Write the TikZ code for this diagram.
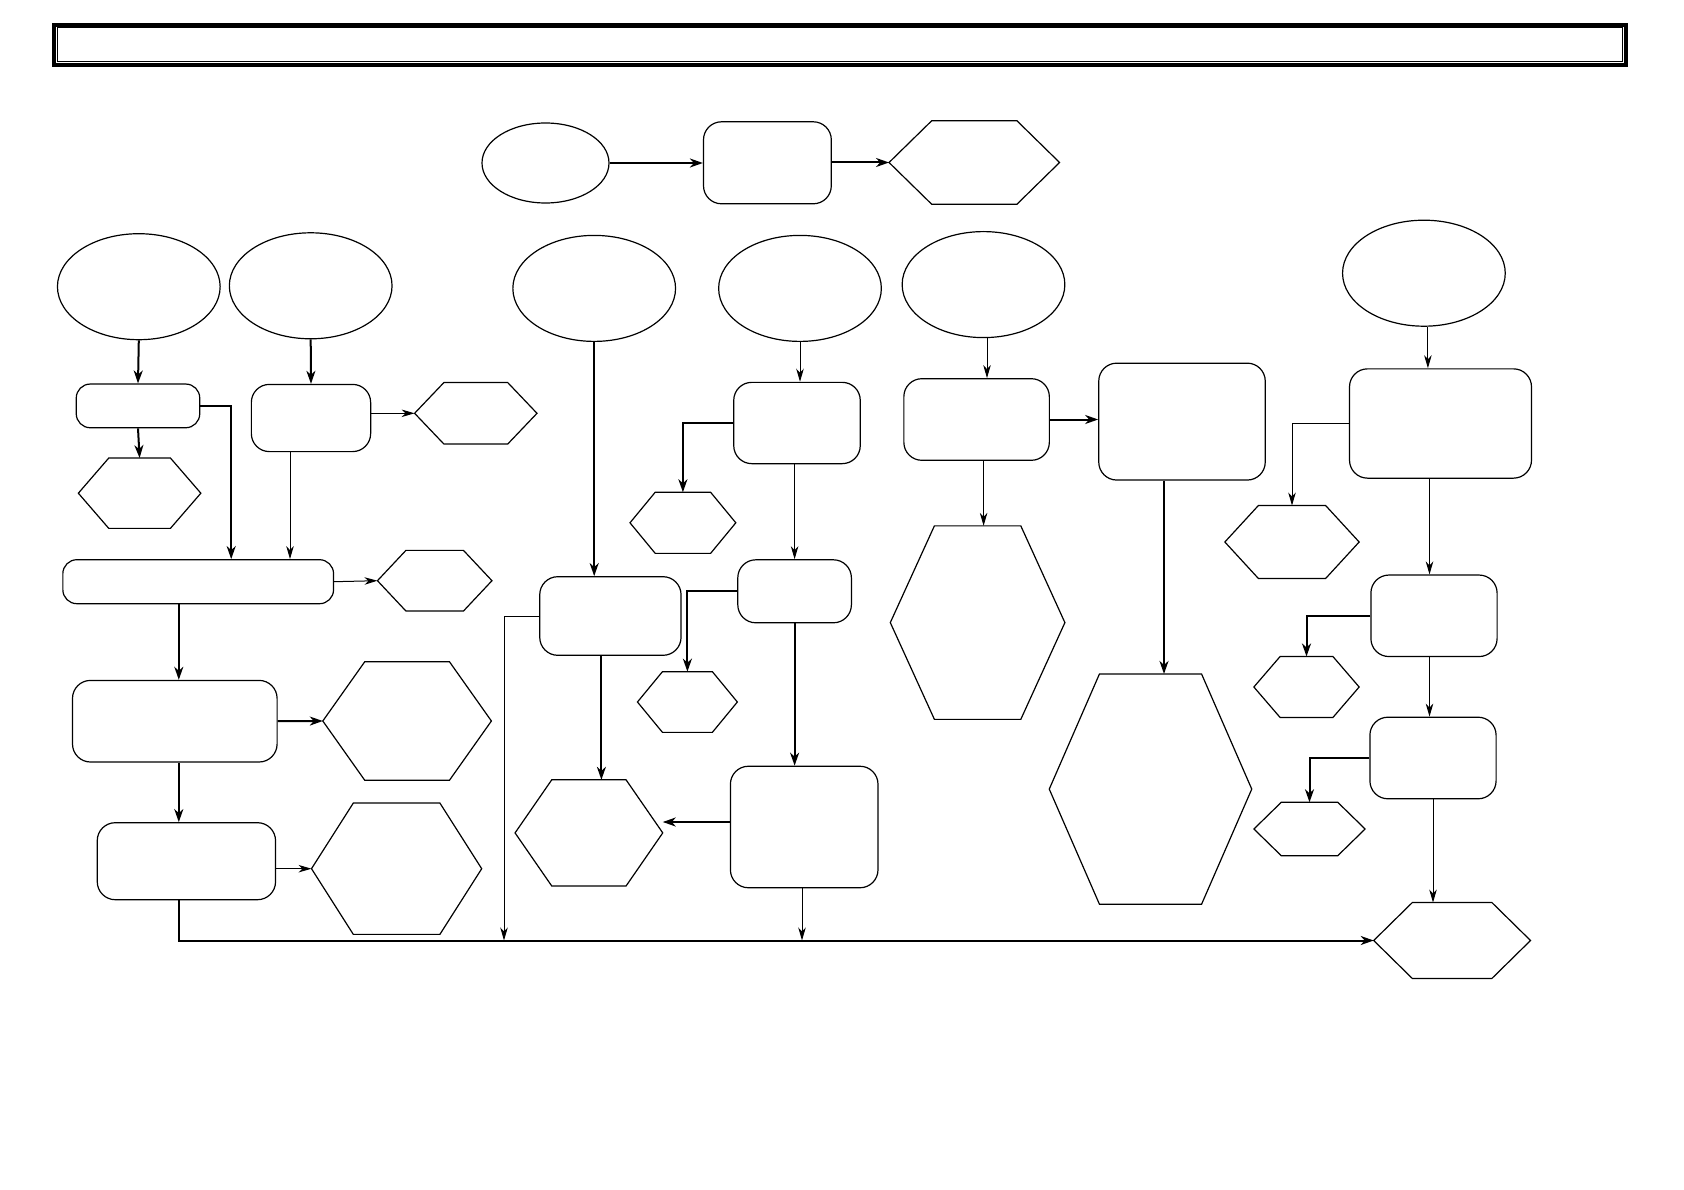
\documentclass[tikz,border=0pt]{standalone}
\usetikzlibrary{shapes.geometric,arrows.meta}
\tikzset{
  oval/.style={draw, ellipse, line width=1.2pt, inner sep=0pt, minimum width=162.7pt, minimum height=106pt},
  box/.style={draw, rectangle, rounded corners=18pt, line width=1.2pt, inner sep=0pt},
  hexbox/.style={rectangle, inner sep=0pt, outer sep=0pt},
  link/.style={line width=1pt, -{Stealth[length=13pt, width=7.5pt, inset=4pt]}},
  mainlink/.style={line width=2pt, -{Stealth[length=13pt, width=9pt, inset=4pt]}},
}
% name, x, y, width, height, slant
\newcommand{\hexa}[6]{%
  \node [hexbox, minimum width=#4pt, minimum height=#5pt] (#1) at (#2,#3) {};
  \draw [line width=1.2pt, line join=miter] (#1.west) -- ([xshift=#6pt]#1.north west) -- ([xshift=-#6pt]#1.north east) -- (#1.east) -- ([xshift=-#6pt]#1.south east) -- ([xshift=#6pt]#1.south west) -- cycle;
}
\begin{document}
\begin{tikzpicture}[x=1pt, y=-1pt]
\useasboundingbox (0,0) rectangle (1684,1190);
%\draw [help lines, step=100] (0,0) grid (1684,1190);
\draw [line width=3.6pt] (54,24.9) rectangle (1625.8,65.1);
\draw [line width=0.9pt] (57.5,27.7) rectangle (1622.3,61.5);
% top row
\node [oval, minimum width=127pt, minimum height=80pt] (e0) at (545.5,163) {};
\node [box, minimum width=127.8pt, minimum height=82pt] (r0) at (767.4,162.8) {};
\hexa{h0}{974.3}{162.5}{170.5}{83.4}{42.6}
% ovals
\node [oval] (e1) at (138.8,286.7) {};
\node [oval] (e2) at (310.7,285.8) {};
\node [oval] (e3) at (594.2,288.4) {};
\node [oval] (e4) at (800,288.4) {};
\node [oval] (e5) at (983.5,284.6) {};
\node [oval] (e6) at (1423.9,273.2) {};
% boxes
\node [box, rounded corners=14pt, minimum width=123.5pt, minimum height=43.7pt] (r1) at (138,405.9) {};
\node [box, minimum width=119.3pt, minimum height=67.2pt] (r2) at (311,418) {};
\node [box, rounded corners=14pt, minimum width=270.7pt, minimum height=44pt] (r3) at (198.2,581.7) {};
\node [box, minimum width=204.6pt, minimum height=81.6pt] (r4) at (174.8,721.2) {};
\node [box, minimum width=178.3pt, minimum height=77pt] (r5) at (186.4,861.2) {};
\node [box, minimum width=141.3pt, minimum height=78.6pt] (r6) at (610.4,616) {};
\node [box, minimum width=126.5pt, minimum height=81.3pt] (r7) at (797,423) {};
\node [box, minimum width=113.6pt, minimum height=63pt] (r8) at (794.6,591.3) {};
\node [box, minimum width=147.6pt, minimum height=121.5pt] (r9) at (804.2,827) {};
\node [box, minimum width=145.5pt, minimum height=81.6pt] (r10) at (976.6,419.5) {};
\node [box, minimum width=166.5pt, minimum height=116.9pt] (r11) at (1182,421.6) {};
\node [box, minimum width=182pt, minimum height=109.3pt] (r12) at (1440.5,423.5) {};
\node [box, minimum width=126.2pt, minimum height=81.5pt] (r13) at (1434,615.8) {};
\node [box, minimum width=126.2pt, minimum height=81.6pt] (r14) at (1433,758) {};
% hexagons
\hexa{h1}{139.6}{493.2}{122.5}{70.3}{30.4}
\hexa{h2}{475.8}{413.3}{122.4}{61.5}{29.3}
\hexa{h3}{434.7}{580.7}{114.5}{60.7}{28.5}
\hexa{h4}{407.1}{721}{168.6}{118.4}{41.9}
\hexa{h5}{396.6}{868.7}{170.2}{131.3}{41.8}
\hexa{h6}{682.9}{522.8}{105.8}{61.1}{25.2}
\hexa{h7}{588.9}{832.9}{147.7}{106.2}{36.7}
\hexa{h8}{687.4}{702}{99.9}{60.7}{25}
\hexa{h9}{977.6}{622.6}{174.6}{193.5}{44.1}
\hexa{h10}{1150.5}{789.1}{202.5}{230.3}{50.2}
\hexa{h11}{1292}{542}{134.3}{72.9}{33.5}
\hexa{h12}{1306.5}{687}{105.3}{61.1}{26.3}
\hexa{h13}{1309.5}{829}{111.2}{53.5}{27.4}
\hexa{h14}{1452.1}{940.5}{156.8}{75.9}{38.6}
\coordinate (b1) at (504,940.5);
\coordinate (b2) at (802,940.5);
% connectors
\draw [mainlink] (e0.east) -- (e0.east -| r0.west);
\draw [mainlink] (r0.east |- h0.west) -- (h0.west);
\draw [mainlink] (e1.south) -- (r1.north);
\draw [mainlink] (r1.south) -- (h1.north);
\draw [mainlink] (r1.east) -| ([xshift=33pt]r3.north);
\draw [mainlink] (e2.south) -- (r2.north);
\draw [link] (r2.east |- h2.west) -- (h2.west);
\draw [link] ([xshift=-21pt]r2.south) -- ([xshift=-21pt]r2.south |- r3.north);
\draw [link] (r3.east) -- (h3.west);
\draw [mainlink] ([xshift=4pt]r4.north |- r3.south) -- ([xshift=4pt]r4.north);
\draw [mainlink] (r4.east) -- (h4.west);
\draw [mainlink] ([xshift=4pt]r4.south) -- ([xshift=4pt]r4.south |- r5.north);
\draw [link] (r5.east |- h5.west) -- (h5.west);
\draw [mainlink] ([xshift=4pt]r4.south |- r5.south) |- (h14.west);
\draw [mainlink] (e3.south) -- (e3.south |- r6.north);
\draw [link] (r6.west) -| (b1);
\draw [mainlink] ([xshift=-9pt]r6.south) -- ([xshift=-9pt]r6.south |- h7.north);
\draw [link] (e4.south) -- (e4.south |- r7.north);
\draw [mainlink] (r7.west) -| (h6.north);
\draw [link] (r8.north |- r7.south) -- (r8.north);
\draw [mainlink] (r8.west) -| (h8.north);
\draw [mainlink] (r8.south) -- (r8.south |- r9.north);
\draw [mainlink] ([yshift=5pt]r9.west) -- ([yshift=5pt]r9.west -| h7.east);
\draw [link] (r9.south -| b2) -- (b2);
\draw [link] ([xshift=3.5pt]e5.south) -- ([xshift=3.5pt]e5.south |- r10.north);
\draw [mainlink] (r10.east) -- (r10.east -| r11.west);
\draw [link] ([xshift=7pt]r10.south) -- ([xshift=7pt]r10.south |- h9.north);
\draw [mainlink] ([xshift=-18pt]r11.south) -- ([xshift=-18pt]r11.south |- h10.north);
\draw [link] ([xshift=4pt]e6.south) -- ([xshift=4pt]e6.south |- r12.north);
\draw [link] (r12.west) -| (h11.north);
\draw [link] ([xshift=-4.5pt]r13.north |- r12.south) -- ([xshift=-4.5pt]r13.north);
\draw [mainlink] (r13.west) -| (h12.north);
\draw [link] ([xshift=-3.5pt]r14.north |- r13.south) -- ([xshift=-3.5pt]r14.north);
\draw [mainlink] (r14.west) -| (h13.north);
\draw [link] (r14.south) -- (r14.south |- h14.north);
\end{tikzpicture}
\end{document}
